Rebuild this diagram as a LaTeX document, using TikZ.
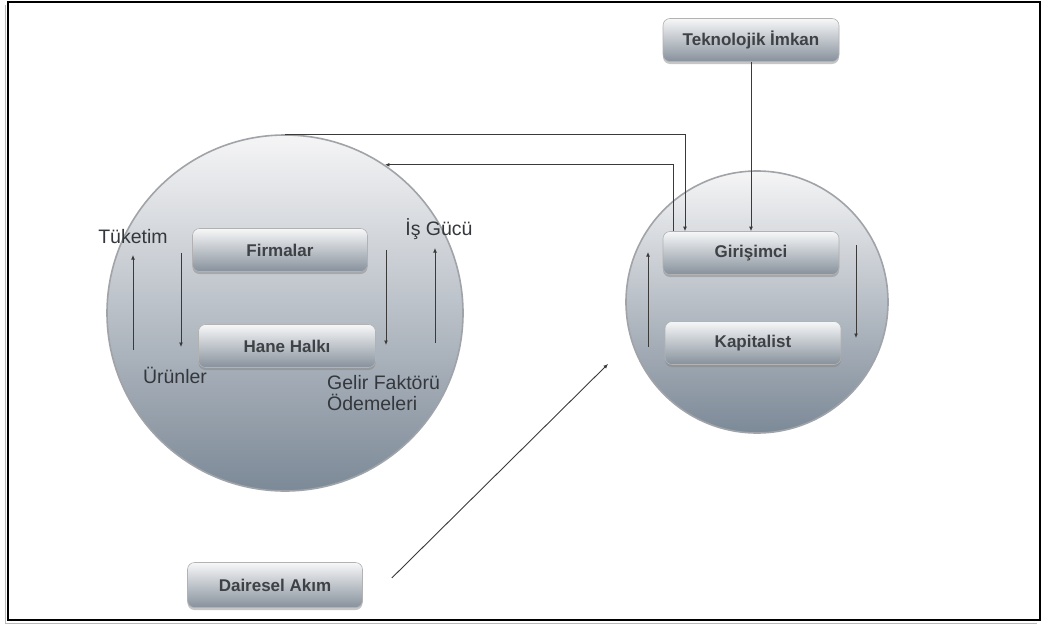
\documentclass[tikz,border=0pt]{standalone}
\usepackage{fontspec}
\setmainfont{Liberation Sans}
\usetikzlibrary{arrows.meta,shadows,calc}
\definecolor{ink}{HTML}{34373B}
\definecolor{boxink}{HTML}{3E4246}
\definecolor{boxtop}{HTML}{F6F7F8}
\definecolor{boxbot}{HTML}{87919C}
\definecolor{disktop}{HTML}{F5F5F6}
\definecolor{diskbot}{HTML}{7C8997}
\definecolor{rim}{HTML}{A0A3A7}
\definecolor{wire}{HTML}{3A3A3A}

\begin{document}
\begin{tikzpicture}[x=1pt,y=-1pt,
  disk/.style={circle, draw=rim, line width=1.6pt, top color=disktop, bottom color=diskbot, inner sep=0pt},
  panel/.style={rounded corners=7pt, draw=gray!60, line width=0.6pt,
    top color=boxtop, bottom color=boxbot, minimum width=175pt, minimum height=43pt,
    font=\fontsize{17}{20}\selectfont\bfseries, text=boxink,
    drop shadow={opacity=0.45, shadow xshift=0pt, shadow yshift=-2.5pt}},
  lbl/.style={font=\fontsize{19.5}{21}\selectfont, text=ink, inner sep=0pt},
  flow/.style={draw=wire, line width=0.9pt, -{Latex[length=4.5pt,width=4pt]}},
]
\useasboundingbox (0,0) rectangle (1042,624);

% outer frame with a faint shadow edge
\draw[gray!55, line width=1pt] (5,5) -- (5,623) -- (1037,623);
\draw[black, line width=1.8pt] (8,2) rectangle (1040,620);

% the two circular flows
\node[disk, minimum size=356pt] (L) at (285,313) {};
\node[disk, minimum size=262pt] (R) at (757,302) {};

% boxes
\node[panel] (F) at (280,250) {Firmalar};
\node[panel, minimum width=177pt] (H) at (287,346) {Hane Halkı};
\node[panel, minimum width=176pt] (T) at (751,40) {Teknolojik İmkan};
\node[panel, minimum width=176pt] (G) at (751,253) {Girişimci};
\node[panel, minimum width=176pt] (K) at (753,343) {Kapitalist};
\node[panel, minimum height=45pt] (D) at (275,585) {Dairesel Akım};

% labels inside the left circle
\node[lbl] (tuk) at (133,237) {Tüketim};
\node[lbl] (urun) at (175,375) {Ürünler};
\node[lbl] (isg) at (439,229) {İş Gücü};
\node[lbl, anchor=north west, align=left] (gelir) at (327,375) {Gelir Faktörü\\Ödemeleri};

% end points of the inner arrows
\coordinate (a1s) at (133,350); \coordinate (a1e) at (133,255);
\coordinate (a2s) at (181,253); \coordinate (a2e) at (181,347);
\coordinate (a3s) at (386,250); \coordinate (a3e) at (386,345);
\coordinate (a4s) at (435,343); \coordinate (a4e) at (435,248);
\coordinate (b1s) at (648,347); \coordinate (b1e) at (648,252);
\coordinate (b2s) at (856,245); \coordinate (b2e) at (856,338);
\coordinate (akim) at (608,364);

\draw[flow] (a1s) -- (a1e);
\draw[flow] (a2s) -- (a2e);
\draw[flow] (a3s) -- (a3e);
\draw[flow] (a4s) -- (a4e);
\draw[flow] (b1s) -- (b1e);
\draw[flow] (b2s) -- (b2e);

% links between the circles
\draw[flow] (L.north) -| ([xshift=-66pt]G.north);
\draw[flow] ([xshift=-78pt]G.north) |- (L.56);
\draw[flow] (T.south) -- (G.north);
\draw[flow] ([shift={(29pt,7pt)}]D.east) -- (akim);
\end{tikzpicture}
\end{document}
